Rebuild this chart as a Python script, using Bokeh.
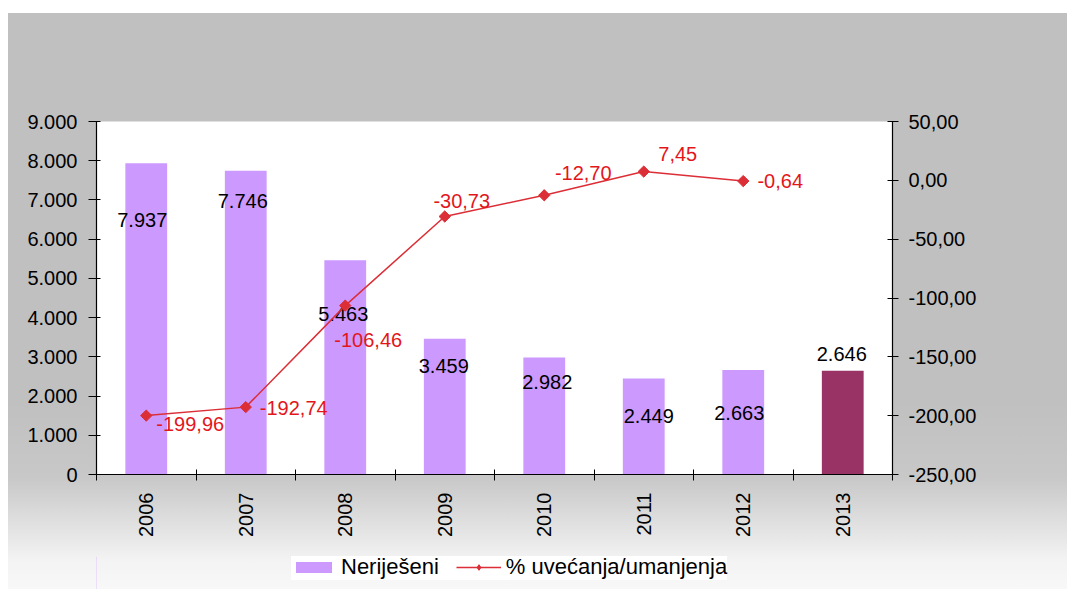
import math
from bokeh.plotting import figure
from bokeh.layouts import column
from bokeh.models import (Range1d, LinearAxis, FixedTicker, Legend, LegendItem,
                          ColumnDataSource)
from bokeh.core.properties import value
from bokeh.embed import file_html
from bokeh.resources import INLINE

# ---------------- data ----------------
years = ["2006", "2007", "2008", "2009", "2010", "2011", "2012", "2013"]
unresolved = [7937, 7746, 5463, 3459, 2982, 2449, 2663, 2646]
pct_change = [-199.96, -192.74, -106.46, -30.73, -12.70, 7.45, -0.64]
left_ticks = [0, 1000, 2000, 3000, 4000, 5000, 6000, 7000, 8000, 9000]
right_ticks = [-250, -200, -150, -100, -50, 0, 50]
series_names = ["Nerije\u0161eni", "% uve\u0107anja/umanjenja"]

# ---------------- styles ----------------
BAR_COLOR = "#CC99FF"
LAST_BAR_COLOR = "#993366"
bar_colors = [BAR_COLOR] * 7 + [LAST_BAR_COLOR]
bar_label_dx = [-4, -3, -2, -1, 3, 5, -4, -1]
bar_label_dy = [57, 30, 54, 27, 24, 38, 43, -17]
pct_label_dx = [44, 48, 23, 17, 39, 34, 37]
pct_label_dy = [8, 1, 34, -15, -22, -18, 0]
FONT = "Liberation Sans"
RED_LINE = "#DC2E36"
RED_TEXT = "#E3161C"


def fmt_thousands(v):
    return f"{v:,.0f}".replace(",", ".")


def fmt_dec(v):
    return f"{v:.2f}".replace(".", ",")


centers = [i + 0.5 for i in range(len(years))]
bounds = [i for i in range(len(years) + 1)]

bar_src = ColumnDataSource(dict(
    x=centers, top=unresolved, color=bar_colors,
    label=[fmt_thousands(v) for v in unresolved],
    dx=bar_label_dx, dy=bar_label_dy,
))
pct_src = ColumnDataSource(dict(
    x=centers[:len(pct_change)], y=pct_change,
    label=[fmt_dec(v) for v in pct_change],
    dx=pct_label_dx, dy=pct_label_dy,
))

p = figure(
    width=1059, height=543,
    x_range=Range1d(0, len(years)), y_range=Range1d(0, 9000),
    output_backend="svg", toolbar_location=None,
    min_border_left=88, min_border_right=175, min_border_top=108, min_border_bottom=82,
    background_fill_color="white", border_fill_color=None, outline_line_color=None,
)
p.extra_y_ranges = {"pct": Range1d(-250, 50)}
p.xgrid.visible = False
p.ygrid.visible = False

bars = p.vbar(x="x", top="top", bottom=0, width=0.42, fill_color="color",
              line_color=None, source=bar_src)
p.text(x="x", y="top", text="label", x_offset="dx", y_offset="dy", source=bar_src,
       text_align="center", text_baseline="middle", text_font=value(FONT),
       text_font_size="20px", text_color="black")

line = p.line(x="x", y="y", source=pct_src, y_range_name="pct",
              line_color=RED_LINE, line_width=1.5)
marks = p.scatter(x="x", y="y", source=pct_src, y_range_name="pct", marker="square",
                  angle=math.pi / 4, size=8, fill_color=RED_LINE, line_color=RED_LINE)
p.text(x="x", y="y", text="label", x_offset="dx", y_offset="dy", source=pct_src,
       y_range_name="pct", text_align="center", text_baseline="middle",
       text_font=value(FONT), text_font_size="20px", text_color=RED_TEXT)

# left axis
ya = p.yaxis[0]
ya.ticker = FixedTicker(ticks=left_ticks)
ya.major_label_overrides = {t: fmt_thousands(t) for t in left_ticks}
ya.minor_tick_line_color = None
ya.major_tick_in = 4
ya.major_tick_out = 8
ya.major_label_standoff = 11

# right axis
ra = LinearAxis(y_range_name="pct", ticker=FixedTicker(ticks=right_ticks))
ra.major_label_overrides = {t: fmt_dec(t) for t in right_ticks}
ra.minor_tick_line_color = None
ra.major_tick_in = 5
ra.major_tick_out = 6
ra.major_label_standoff = 10
p.add_layout(ra, "right")

# bottom axis
xa = p.xaxis[0]
xa.ticker = FixedTicker(ticks=centers, minor_ticks=bounds)
xa.major_label_overrides = {c: y for c, y in zip(centers, years)}
xa.major_tick_in = 0
xa.major_tick_out = 0
xa.minor_tick_in = 5
xa.minor_tick_out = 6
xa.minor_tick_line_color = "black"
xa.major_label_standoff = 12
xa.major_label_orientation = math.pi / 2

for ax in (ya, ra, xa):
    ax.axis_line_color = "black"
    ax.axis_line_width = 1.2
    ax.major_tick_line_color = "black" if ax is not xa else None
    ax.major_label_text_font = FONT
    ax.major_label_text_font_size = "20px"
    ax.major_label_text_color = "black"

# ---------------- legend strip ----------------
lf = figure(
    width=1059, height=50, x_range=Range1d(0, 1), y_range=Range1d(0, 1),
    output_backend="svg", toolbar_location=None,
    min_border_left=88, min_border_right=175, min_border_top=0, min_border_bottom=0,
    background_fill_color=None, border_fill_color=None, outline_line_color=None,
)
lf.xaxis.visible = False
lf.yaxis.visible = False
lf.xgrid.visible = False
lf.ygrid.visible = False
lbar = lf.vbar(x=[-1000], top=[1], bottom=0, width=0.1, fill_color=BAR_COLOR, line_color=None)
lline = lf.line(x=[-1000, -999], y=[0.5, 0.5], line_color=RED_LINE, line_width=1.5)
lmark = lf.scatter(x=[-1000], y=[0.5], marker="diamond", size=13,
                   fill_color=RED_LINE, line_color=RED_LINE)

legend = Legend(
    items=[LegendItem(label=series_names[0], renderers=[lbar]),
           LegendItem(label=series_names[1], renderers=[lline, lmark])],
    orientation="horizontal", location=(195, 26),
    background_fill_color="white", background_fill_alpha=1.0,
    border_line_color=None,
    label_text_font=FONT, label_text_font_size="22px", label_text_color="black",
    glyph_width=45, glyph_height=14, label_standoff=5, spacing=17, padding=9,
    margin=0,
)
lf.add_layout(legend, "center")

layout = column(
    p, lf, spacing=0, margin=(13, 0, 0, 8),
    styles={"background": "linear-gradient(to bottom, #c0c0c0 0px, #c0c0c0 390px, "
                          "#c8c8c8 465px, #f3f3f3 547px, #f8f8f8 576px, #f8f8f8 700px)"},
)

open("out.html", "w").write(file_html(layout, INLINE))
